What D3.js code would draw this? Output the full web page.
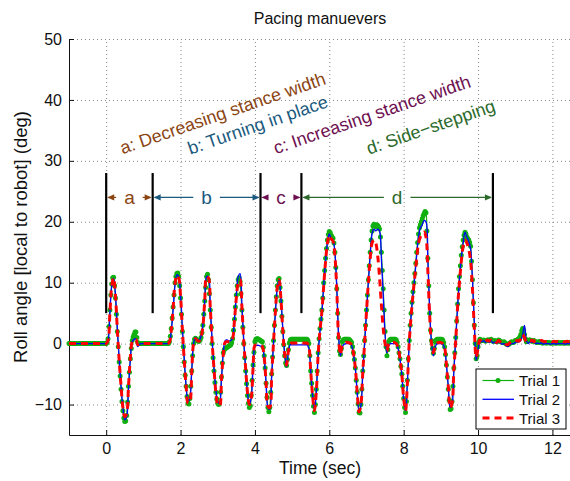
<!DOCTYPE html>
<html>
<head>
<meta charset="utf-8">
<script src="https://cdn.jsdelivr.net/npm/d3@7"></script>
<style>
  html, body { margin: 0; padding: 0; background: #fff; }
  svg { display: block; font-family: "Liberation Sans", Arial, Helvetica, sans-serif; }
</style>
</head>
<body>
<svg id="chart"></svg>
<script>
// Trial 1 is logged at 40 Hz, trials 2 and 3 at 20 Hz; all start at t = -1 s
const t0 = -1;
const dt1 = 0.025;
const dt = 0.05;

const trial1 = [
  0, 0, 0, 0, 0, 0, 0, 0, 0, 0, 0, 0, 0, 0, 0, 0, 0, 0, 0, 0,
  0, 0, 0, 0, 0, 0, 0, 0, 0, 0, 0, 0, 0, 0, 0, 0, 0, 0, 0, 0,
  0, 0.2, 0.8, 2.8, 5.5, 8, 9.8, 10.8, 10.9, 9.5, 7.5, 4.8, 2, -0.5, -3, -5.3, -7.5, -9.5, -11, -12.2,
  -12.8, -12.7, -11.8, -9.6, -7, -4.7, -2.5, -0.8, 0.5, 1.1, 1.5, 1.9, 1.9, 1, 0.2, 0, 0, 0, 0, 0,
  0, 0, 0, 0, 0, 0, 0, 0, 0, 0, 0, 0, 0, 0, 0, 0, 0, 0, 0, 0,
  0, 0, 0, 0, 0, 0, 0, 0, 0.3, 1.2, 2.5, 4.2, 6, 8, 10, 11, 11.5, 11.6, 11, 9.5,
  7.5, 4.8, 2, -0.5, -3, -5.2, -7, -8.7, -9.8, -9.9, -9, -7, -4.5, -2, 0, 0.7, 0.9, 0.7, 0.5, 0.4,
  0.4, 0.6, 1, 1.8, 3, 4.8, 7, 9.2, 11, 11.4, 10.5, 8.2, 5.5, 2.7, 0, -2.3, -4.5, -6.4, -8, -9.1,
  -9.8, -10, -9.8, -8, -5.5, -3.2, -1.5, -1, -0.8, -0.7, -0.6, -0.5, -0.4, -0.3, -0.2, 0.2, 0.8, 2.2, 4, 6,
  8, 9.5, 10.5, 10.8, 10.2, 8.2, 5.5, 2.7, 0, -2.3, -4.5, -6.6, -8.5, -9.8, -10.5, -10.2, -8.5, -6, -3.5, -1.4,
  0.3, 0.7, 0.8, 0.8, 0.7, 0.6, 0.5, 0.4, 0.3, -0.6, -2, -4, -6.5, -8.8, -10.5, -11.2, -10.5, -8, -5, -2.2,
  0.5, 3, 5.5, 7.7, 9.5, 10.5, 10.7, 9.2, 7, 4.5, 2, -0.2, -2, -3.2, -3.6, -2.6, -1, 0.1, 0.6, 0.7,
  0.7, 0.7, 0.7, 0.7, 0.7, 0.7, 0.7, 0.7, 0.7, 0.7, 0.7, 0.7, 0.7, 0.7, 0.7, 0.7, 0.7, 0.5, 0, -2,
  -4.5, -6.5, -8.5, -10.3, -11.3, -10, -7.5, -4.5, -1.5, 0.8, 2.5, 4, 5.5, 7.5, 10, 12, 14, 15.6, 17, 17.9,
  18.4, 18.2, 17.8, 17.5, 17.3, 16.5, 15, 12.5, 9, 5, 1, -1.2, -1.8, -0.8, 0.3, 0.6, 0.7, 0.7, 0.7, 0.7,
  0.7, 0.7, 0.6, 0.4, 0.2, -0.5, -1.5, -2.6, -4, -6, -8, -9.9, -11.3, -11.4, -10, -7.5, -4.5, -2, 0.5, 3,
  5.5, 8, 10.5, 12.8, 15, 17, 18.5, 19.3, 19.6, 19.4, 19.2, 19.5, 19.4, 19.2, 18.8, 17.5, 15, 12, 9, 5.5,
  2, -0.5, -2, -1, 0.3, 0.6, 0.7, 0.7, 0.7, 0.7, 0.7, 0.7, 0.6, 0.2, -0.5, -1.5, -2.5, -3.7, -5, -7,
  -9, -10.5, -11.3, -9.5, -6, -2.5, 0.5, 3, 5, 6.8, 8.5, 10, 11.5, 13.2, 15, 16.6, 18, 19, 19.5, 20,
  20.5, 21, 21.3, 21.7, 21.5, 18.5, 14, 9.5, 5, 2.2, 0.5, -0.8, -1.6, -0.8, 0.3, 0.6, 0.7, 0.7, 0.7, 0.7,
  0.7, 0.7, 0.6, 0.2, -0.5, -1.8, -3.5, -5.5, -7.5, -9.3, -10.8, -10.7, -9.5, -7, -4, -1.5, 1, 3.7, 6.5, 9,
  11, 12.8, 14.5, 15.9, 17, 17.8, 18.3, 18, 17.5, 17.2, 17, 16.6, 16, 13.5, 10.5, 6.7, 3, 0, -2.5, -2,
  -0.5, 0.3, 0.7, 0.6, 0.5, 0.5, 0.6, 0.5, 0.4, 0.5, 0.6, 0.6, 0.5, 0.6, 0.7, 0.5, 0.4, 0.4, 0.5, 0.4,
  0.3, 0.4, 0.6, 0.5, 0.4, 0.3, 0.2, 0.2, 0.3, 0.1, 0, -0.1, -0.2, -0.1, 0, 0.2, 0.3, 0.2, 0.2, 0.3,
  0.5, 0.5, 0.6, 0.7, 0.8, 1.1, 1.5, 2.1, 2.5, 2.2, 1.5, 0.8, 0.3, 0.4, 0.5, 0.6, 0.6, 0.5, 0.4, 0.4,
  0.5, 0.4, 0.3, 0.2, 0.2, 0.3, 0.3, 0.2, 0.2, 0.1, 0.1, 0.2, 0.2, 0.1, 0.1, 0.2, 0.2, 0.1, 0.1, 0.1,
  0.1, 0.1, 0.2, 0.1, 0.1, 0.1, 0.2, 0.1, 0.1, 0.1, 0.2, 0.1, 0.1, 0.1, 0.1, 0.2, 0.1, 0.1, 0.1, 0.2,
  0.1
];

const trial2 = [
  0, 0, 0, 0, 0, 0, 0, 0, 0, 0, 0, 0, 0, 0, 0, 0, 0, 0, 0, 0,
  0, 0.5, 5, 9.5, 10.7, 8, 2.5, -2.5, -7, -10.5, -12.5, -12, -7.5, -2.5, 0.3, 0.7, 0.8, -0.5, -0.1, 0,
  0, 0, 0, 0, 0, 0, 0, 0, 0, 0, 0, 0, 0, 0, 0.2, 2, 5.5, 9.5, 11.3, 11,
  8, 2.5, -2.5, -7, -9.5, -9, -4.5, 0, 1, 0.6, 0.5, 1.2, 3, 7, 11, 11, 6, 0.5, -4, -7.5,
  -9.5, -9.8, -6, -1.5, 0.5, 0.6, 0.4, 0.5, 1, 4, 8, 11, 11.5, 6.5, 0.5, -4, -8, -10, -9, -4,
  -0.5, -0.3, -0.3, -0.4, -0.5, -2.5, -6.5, -10.5, -10.8, -5.5, 0, 5, 9, 10.4, 7.5, 2.5, -1.5, -3.8, -1.5, -0.2,
  -0.2, -0.2, -0.2, -0.2, -0.2, -0.2, -0.2, -0.2, -0.2, -0.8, -4.5, -8.5, -10.8, -8, -2, 2, 5, 9.5, 13.5, 16.5,
  18, 17.2, 17, 15, 9.5, 1.5, -2, -0.5, -0.1, 0, 0, 0, -0.3, -1.8, -4, -8, -11, -10.2, -5, 0,
  5, 10, 14.5, 18, 18.8, 18.5, 18.8, 18.5, 14, 8, 1.5, -1.5, -0.3, 0, 0, 0, -0.1, -0.8, -2.5, -5,
  -9, -11, -6.5, 0, 4.5, 8, 11, 14.5, 17.5, 19, 19.5, 20.2, 20, 14, 5.5, 0, -2, -0.5, 0, 0,
  0, -0.1, -0.8, -3.5, -7, -10.5, -10, -4.5, 0.5, 6, 10.5, 14, 16.5, 18.3, 17.5, 16.8, 15.5, 10.5, 3.5, -2.7,
  -1, 0.5, 0.3, 0.5, 0.2, 0.4, 0.2, 0.5, 0.1, 0.3, 0, 0.3, 0.1, -0.1, 0, -0.3, -0.5, -0.2, 0, 0,
  0.2, 0.3, 0.3, 0.5, 1.5, 3, 0.5, 0, 0.3, 0.2, 0.3, 0, 0.1, 0, 0.1, -0.1, 0, 0, 0, -0.1,
  0, 0, -0.1, 0, 0, 0, 0, -0.1, 0, 0, 0
];

const trial3 = [
  0, 0, 0, 0, 0, 0, 0, 0, 0, 0, 0, 0, 0, 0, 0, 0, 0, 0, 0, 0,
  0, 0.5, 5, 9.5, 10.8, 7.8, 2.2, -2.8, -7, -10.5, -12, -11.5, -7, -2.3, 0.3, 0.6, 0.7, -0.2, 0, 0,
  0, 0, 0, 0, 0, 0, 0, 0, 0, 0, 0, 0, 0, 0, 0.2, 2.2, 5.8, 9.8, 11.2, 10.8,
  7.8, 2.2, -2.8, -7, -9.8, -9.5, -4.8, 0, 0.8, 0.5, 0.4, 1, 2.8, 7, 11, 10.8, 5.8, 0.2, -4.2, -8,
  -10, -10.2, -6, -1.8, 0.2, 0.3, 0.3, 0.3, 0.8, 3.8, 7.5, 10, 10.5, 6, 0.3, -4, -8, -10, -9, -4,
  -0.3, -0.2, -0.2, -0.3, -0.5, -2.3, -6.5, -10.3, -10.5, -5.3, 0.2, 5.2, 9.2, 10.5, 7.2, 2.2, -1.8, -3.5, -1.2, 0,
  0.1, 0.1, 0.1, 0.1, 0.1, 0.1, 0.1, 0.1, 0.1, -0.5, -4.5, -8.5, -11, -8, -1.8, 2.2, 5.2, 9.5, 13.5, 16.5,
  17.8, 17.2, 16.8, 14.5, 9, 1, -1.8, -0.3, 0, 0.2, 0.2, 0.1, -0.2, -1.6, -4, -8, -11.2, -10, -4.8, 0.2,
  5.2, 10, 14, 16.5, 17, 16.5, 14.5, 11, 6.5, 2.5, 0, -1.2, 0, 0.2, 0.2, 0.2, 0, -0.6, -2.5, -5,
  -9, -11, -6.5, 0.2, 4.5, 8, 11, 14, 16.5, 17.5, 18, 18.3, 17.5, 12, 4.5, 0, -1.5, -0.3, 0.1, 0.2,
  0.2, 0, -0.6, -3.5, -7, -10.5, -9.8, -4.3, 0.5, 6, 10, 13.5, 16, 17, 16.5, 15.5, 13.5, 9, 2.5, -2.3,
  -0.8, 0.6, 0.4, 0.5, 0.3, 0.6, 0.4, 0.6, 0.3, 0.4, 0.2, 0.5, 0.3, 0.1, 0.2, -0.1, -0.2, 0.1, 0.3, 0.2,
  0.4, 0.5, 0.4, 0.8, 1.5, 1, 0.3, 0.5, 0.4, 0.6, 0.3, 0.5, 0.4, 0.3, 0.5, 0.4, 0.3, 0.4, 0.3, 0.4,
  0.3, 0.4, 0.3, 0.4, 0.3, 0.4, 0.3, 0.3, 0.4, 0.3, 0.3
];

const seriesNames = ['Trial 1', 'Trial 2', 'Trial 3'];
const xTicks = [0, 2, 4, 6, 8, 10, 12];
const yTicks = [-10, 0, 10, 20, 30, 40, 50];

// maneuver phases: boundaries (sec), short letters, long names
const phaseBounds = [0, 1.25, 4.15, 5.25, 10.4];
const phaseLetters = ['a', 'b', 'c', 'd'];
const phaseNames = ['a: Decreasing stance width', 'b: Turning in place', 'c: Increasing stance width', 'd: Side\u2212stepping'];
const phaseNameAt = [[0.44, 31.1], [2.26, 31], [4.57, 31.1], [7.07, 31]];
const phaseColors = ['#8b4513', '#1b5a7e', '#6e0f50', '#2c6a2c'];

const W = 570, H = 481;
const svg = d3.select('#chart').attr('width', W).attr('height', H);

const x = d3.scaleLinear().domain([-1, 12.5]).range([69, 571]);
const y = d3.scaleLinear().domain([-15, 50]).range([435, 39]);

const toPoints = (arr, step) => arr.map((v, i) => [t0 + i * step, v]);

// dotted grid
svg.append('g')
  .attr('transform', `translate(0,${y(-15)})`)
  .call(d3.axisBottom(x).tickValues(xTicks).tickSize(-(y(-15) - y(50))).tickFormat(''))
  .call(g => g.select('.domain').remove())
  .selectAll('line').attr('stroke', '#888').attr('stroke-dasharray', '1,3');
svg.append('g')
  .attr('transform', `translate(${x(-1)},0)`)
  .call(d3.axisLeft(y).tickValues(yTicks).tickSize(-(x(12.5) - x(-1))).tickFormat(''))
  .call(g => g.select('.domain').remove())
  .selectAll('line').attr('stroke', '#888').attr('stroke-dasharray', '1,3');

// axes, ticks inward
const xAxis = svg.append('g')
  .attr('transform', `translate(0,${y(-15)})`)
  .call(d3.axisBottom(x).tickValues(xTicks).tickSizeInner(-5).tickSizeOuter(0).tickPadding(8));
const yAxis = svg.append('g')
  .attr('transform', `translate(${x(-1)},0)`)
  .call(d3.axisLeft(y).tickValues(yTicks).tickSizeInner(-5).tickSizeOuter(0).tickPadding(7));
[xAxis, yAxis].forEach(g => {
  g.select('.domain').attr('stroke', '#111');
  g.selectAll('.tick line').attr('stroke', '#111');
  g.selectAll('.tick text').attr('fill', '#111').style('font-size', '16px')
    .style('font-family', '"Liberation Sans", Arial, sans-serif');
});

// phase boundary bars
svg.append('g').selectAll('line').data(phaseBounds).join('line')
  .attr('x1', d => x(d)).attr('x2', d => x(d))
  .attr('y1', y(5)).attr('y2', y(28))
  .attr('stroke', '#000').attr('stroke-width', 2.2);

// double arrows with letters
const arrowY = y(24);
const arrows = svg.append('g');
phaseLetters.forEach((letter, i) => {
  const xa = x(phaseBounds[i]), xb = x(phaseBounds[i + 1]);
  const col = phaseColors[i];
  const mid = (xa + xb) / 2;
  const label = arrows.append('text')
    .attr('x', mid).attr('y', arrowY + 6.5)
    .attr('text-anchor', 'middle')
    .style('font-size', '19px')
    .attr('fill', col)
    .text(letter);
  const half = label.node().getComputedTextLength() / 2 + 8;
  arrows.append('line').attr('x1', xa + 2).attr('x2', mid - half)
    .attr('y1', arrowY).attr('y2', arrowY).attr('stroke', col).attr('stroke-width', 1.2);
  arrows.append('line').attr('x1', mid + half).attr('x2', xb - 2)
    .attr('y1', arrowY).attr('y2', arrowY).attr('stroke', col).attr('stroke-width', 1.2);
  const head = (tip, dir) => [[tip, arrowY], [tip + dir * 7, arrowY - 3.2], [tip + dir * 7, arrowY + 3.2]].join(' ');
  arrows.append('polygon').attr('points', head(xa + 1, 1)).attr('fill', col);
  arrows.append('polygon').attr('points', head(xb - 1, -1)).attr('fill', col);
});

// rotated phase names
svg.append('g').selectAll('text').data(phaseNames).join('text')
  .attr('transform', (d, i) => `translate(${x(phaseNameAt[i][0])},${y(phaseNameAt[i][1])}) rotate(-19)`)
  .attr('fill', (d, i) => phaseColors[i])
  .style('font-size', '18px')
  .text(d => d);

// data
const line = d3.line()
  .x(d => x(d[0]))
  .y(d => y(d[1]))
  .curve(d3.curveCatmullRom.alpha(0.5));

const plot = svg.append('g');
const green = '#10b010';
const pts1 = toPoints(trial1, dt1);
plot.append('path').datum(pts1)
  .attr('d', line).attr('fill', 'none').attr('stroke', green).attr('stroke-width', 1.2);
plot.append('g').selectAll('circle').data(pts1).join('circle')
  .attr('cx', d => x(d[0])).attr('cy', d => y(d[1])).attr('r', 2.5).attr('fill', green);
plot.append('path').datum(toPoints(trial2, dt))
  .attr('d', line).attr('fill', 'none').attr('stroke', '#0000ff').attr('stroke-width', 1.3);
plot.append('path').datum(toPoints(trial3, dt))
  .attr('d', line).attr('fill', 'none').attr('stroke', '#ff0000').attr('stroke-width', 3)
  .attr('stroke-dasharray', '7,5');

// title and axis labels
svg.append('text').attr('x', 320).attr('y', 24).attr('text-anchor', 'middle')
  .style('font-size', '16px').attr('fill', '#111').text('Pacing manuevers');
svg.append('text').attr('x', 320).attr('y', 474).attr('text-anchor', 'middle')
  .style('font-size', '17.5px').attr('fill', '#111').text('Time (sec)');
svg.append('text').attr('transform', `translate(27,${(y(-15) + y(50)) / 2}) rotate(-90)`)
  .attr('text-anchor', 'middle')
  .style('font-size', '18.5px').attr('fill', '#111').text('Roll angle [local to robot] (deg)');

// legend
const legend = svg.append('g').attr('transform', 'translate(476,369)');
legend.append('rect').attr('width', 90).attr('height', 60)
  .attr('fill', '#fff').attr('stroke', '#000').attr('stroke-width', 1);
const styles = [
  { stroke: green, width: 1.2, dash: null, dot: true },
  { stroke: '#0000ff', width: 1.3, dash: null, dot: false },
  { stroke: '#ff0000', width: 3, dash: '7,5', dot: false }
];
seriesNames.forEach((name, i) => {
  const ry = 11.5 + i * 18.8;
  const s = styles[i];
  legend.append('line').attr('x1', 6.5).attr('x2', 38).attr('y1', ry).attr('y2', ry)
    .attr('stroke', s.stroke).attr('stroke-width', s.width).attr('stroke-dasharray', s.dash);
  if (s.dot) legend.append('circle').attr('cx', 22).attr('cy', ry).attr('r', 2.5).attr('fill', green);
  legend.append('text').attr('x', 43).attr('y', ry + 5.5)
    .style('font-size', '15px').attr('fill', '#111').text(name);
});
</script>
</body>
</html>
